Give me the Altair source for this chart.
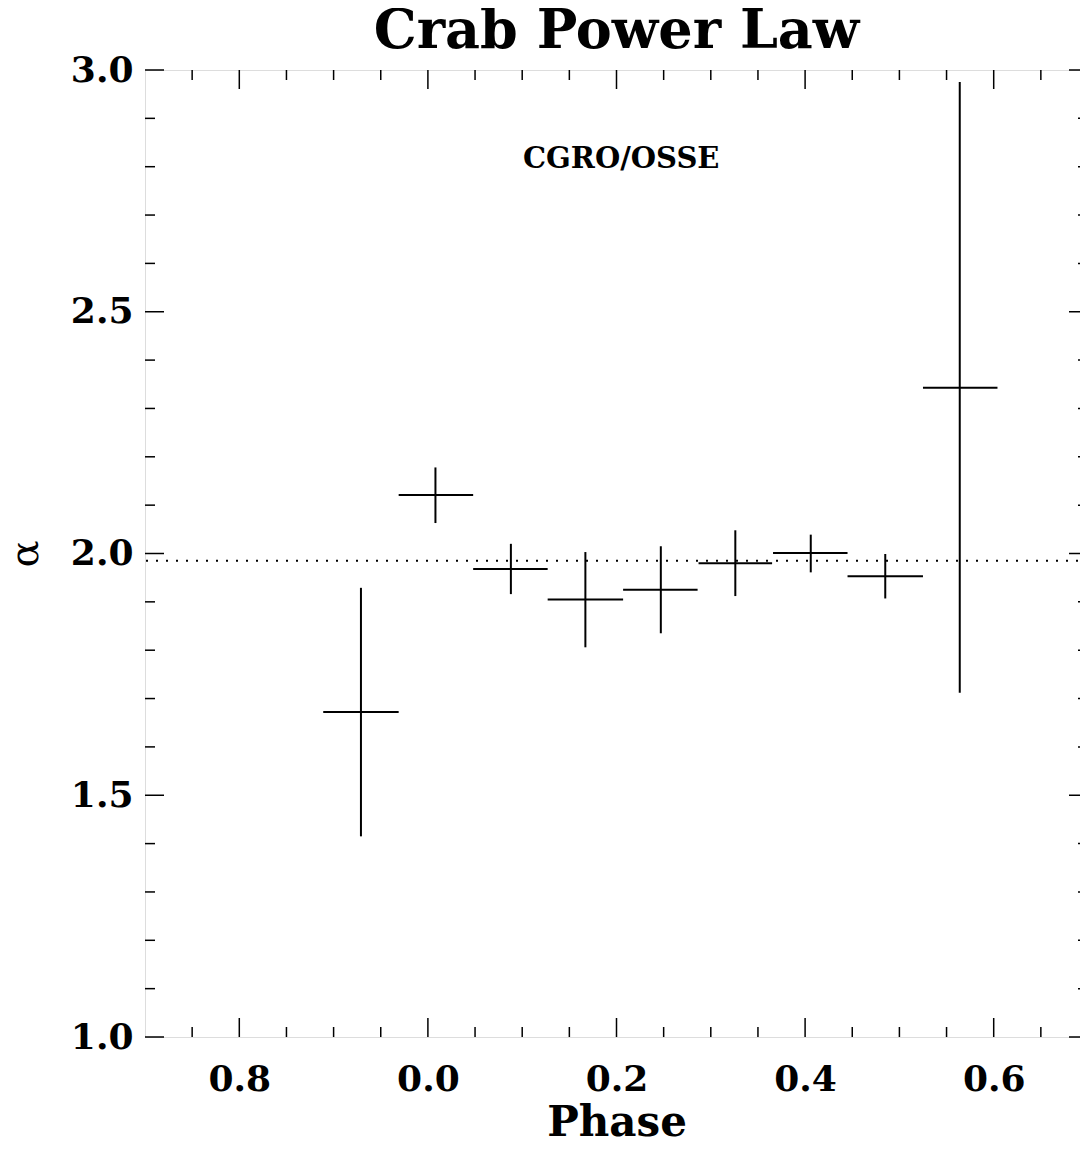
import altair as alt
import pandas as pd

# ---- data ----
phase = [-0.071, 0.008, 0.088, 0.167, 0.247, 0.326, 0.406, 0.485, 0.564]
phase_lo = [-0.111, -0.031, 0.048, 0.127, 0.207, 0.287, 0.366, 0.445, 0.525]
phase_hi = [-0.031, 0.048, 0.127, 0.207, 0.286, 0.365, 0.445, 0.525, 0.604]
alpha = [1.672, 2.121, 1.968, 1.905, 1.925, 1.980, 2.001, 1.953, 2.343]
alpha_lo = [1.415, 2.063, 1.916, 1.806, 1.835, 1.912, 1.961, 1.907, 1.712]
alpha_hi = [1.929, 2.178, 2.020, 2.003, 2.015, 2.048, 2.039, 1.999, 2.975]
mean_alpha = [1.985]

y_major = [1.0, 1.5, 2.0, 2.5, 3.0]
y_minor = [1.1, 1.2, 1.3, 1.4, 1.6, 1.7, 1.8, 1.9, 2.1, 2.2, 2.3, 2.4,
           2.6, 2.7, 2.8, 2.9]
x_major = [-0.2, 0.0, 0.2, 0.4, 0.6]
x_minor = [-0.25, -0.15, -0.1, -0.05, 0.05, 0.1, 0.15, 0.25, 0.3, 0.35,
           0.45, 0.5, 0.55, 0.65]

note_text = ["CGRO/OSSE"]
note_x = [0.205]
note_y = [2.815]

W, H = 943, 967
MAJ, MIN = 19, 10
FONT = "DejaVu Serif"

df = pd.DataFrame(dict(phase=phase, plo=phase_lo, phi=phase_hi,
                       alpha=alpha, alo=alpha_lo, ahi=alpha_hi))

xscale = alt.Scale(domain=[-0.3, 0.7], nice=False, zero=False)
yscale = alt.Scale(domain=[1.0, 3.0], nice=False, zero=False)

xaxis = alt.Axis(values=x_major, ticks=False, domain=False, grid=False,
                 labelExpr="datum.value < 0 ? format(datum.value + 1, '.1f') : format(datum.value, '.1f')",
                 labelFont=FONT, labelFontSize=36, labelFontWeight="bold",
                 labelColor="black", labelPadding=25, labelFlush=False,
                 title="Phase", titleFont=FONT, titleFontSize=42,
                 titleFontWeight="bold", titleColor="black", titlePadding=5)
yaxis = alt.Axis(values=y_major, ticks=False, domain=False, grid=False,
                 format=".1f", labelFont=FONT, labelFontSize=36,
                 labelFontWeight="bold", labelColor="black", labelPadding=12,
                 labelFlush=False,
                 title="α", titleFont=FONT, titleFontSize=40,
                 titleFontWeight="normal", titleColor="black", titlePadding=25)

base = alt.Chart(df)
vbars = base.mark_rule(color="black", strokeWidth=2).encode(
    x=alt.X("phase:Q", scale=xscale, axis=xaxis),
    y=alt.Y("alo:Q", scale=yscale, axis=yaxis),
    y2="ahi:Q",
)
hbars = base.mark_rule(color="black", strokeWidth=2).encode(
    x="plo:Q", x2="phi:Q", y="alpha:Q",
)
mean_line = alt.Chart(pd.DataFrame({"m": mean_alpha})).mark_rule(
    color="black", strokeWidth=2, strokeDash=[2, 8]
).encode(y="m:Q")

note = alt.Chart(pd.DataFrame({"t": note_text, "x": note_x, "y": note_y})).mark_text(
    font=FONT, fontSize=29, fontWeight="bold", color="black",
    align="center", baseline="middle"
).encode(x="x:Q", y="y:Q", text="t:N")


def yticks(vals, x0, x1):
    return alt.Chart(pd.DataFrame({"v": vals})).mark_rule(
        color="black", strokeWidth=1.5).encode(
        y="v:Q", x=alt.value(x0), x2=alt.value(x1))


def xticks(vals, y0, y1):
    return alt.Chart(pd.DataFrame({"v": vals})).mark_rule(
        color="black", strokeWidth=1.5).encode(
        x="v:Q", y=alt.value(y0), y2=alt.value(y1))


ticks = [
    yticks(y_major, 0, MAJ), yticks(y_minor, 0, MIN),
    yticks(y_major, W - MAJ, W), yticks(y_minor, W - MIN, W),
    xticks(x_major, H - MAJ, H), xticks(x_minor, H - MIN, H),
    xticks(x_major, 0, MAJ), xticks(x_minor, 0, MIN),
]

chart = alt.layer(vbars, hbars, mean_line, note, *ticks).properties(
    width=W, height=H,
    title=alt.TitleParams("Crab Power Law", font=FONT, fontSize=54,
                          fontWeight="bold", color="black", anchor="middle",
                          offset=-7),
    autosize=alt.AutoSizeParams(type="none"),
    padding={"left": 137, "top": 62, "right": -8, "bottom": 100},
).configure_view(stroke="black", strokeWidth=1.5).configure(background="white")

chart.save("out.html", embed_options={"renderer": "svg", "actions": False})
